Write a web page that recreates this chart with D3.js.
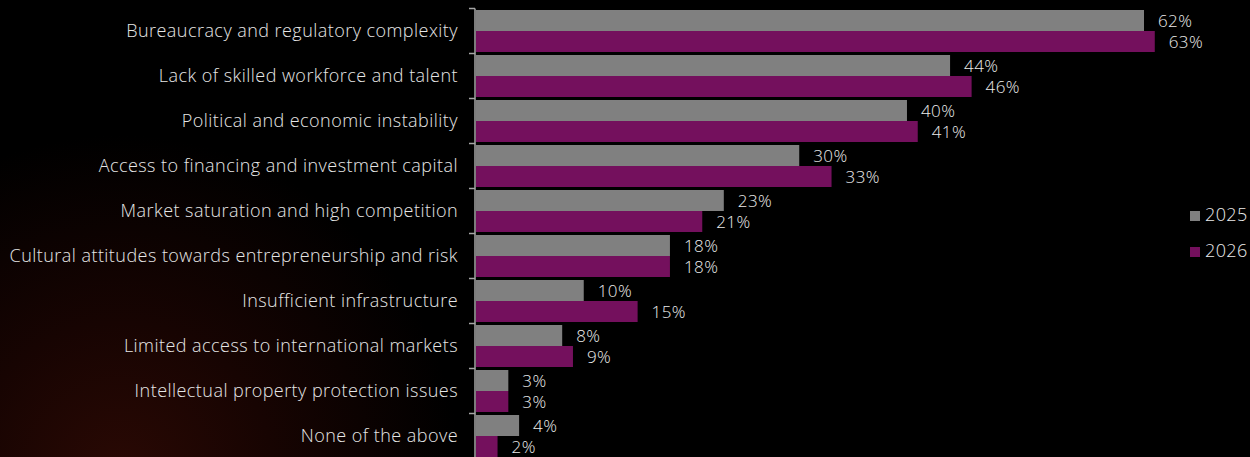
<!DOCTYPE html>
<html>
<head>
<meta charset="utf-8">
<script src="https://cdn.jsdelivr.net/npm/d3@7"></script>
<style>
  html, body { margin: 0; padding: 0; background: #000; }
  svg { display: block; }
</style>
</head>
<body>
<svg id="chart" width="1250" height="457"></svg>
<script>
// Obstacles to entrepreneurship, share of respondents (%)
const categories = [
  "Bureaucracy and regulatory complexity",
  "Lack of skilled workforce and talent",
  "Political and economic instability",
  "Access to financing and investment capital",
  "Market saturation and high competition",
  "Cultural attitudes towards entrepreneurship and risk",
  "Insufficient infrastructure",
  "Limited access to international markets",
  "Intellectual property protection issues",
  "None of the above"
];
const seriesNames = ["2025", "2026"];
const values2025 = [62, 44, 40, 30, 23, 18, 10, 8, 3, 4];
const values2026 = [63, 46, 41, 33, 21, 18, 15, 9, 3, 2];
const seriesColors = ["#808080", "#74105d"];

const svg = d3.select("#chart");
const W = 1250, H = 457;
const FONT = "'Open Sans', sans-serif";

// Background with a faint warm glow in the lower-left corner
const defs = svg.append("defs");
const glow = defs.append("radialGradient")
  .attr("id", "glow").attr("gradientUnits", "userSpaceOnUse")
  .attr("cx", 120).attr("cy", 475).attr("r", 340);
glow.append("stop").attr("offset", "0%").attr("stop-color", "#2a0904");
glow.append("stop").attr("offset", "45%").attr("stop-color", "#170402");
glow.append("stop").attr("offset", "100%").attr("stop-color", "#000");
svg.append("rect").attr("width", W).attr("height", H).attr("fill", "#000");
svg.append("rect").attr("width", W).attr("height", H).attr("fill", "url(#glow)");

const data = categories.map((c, i) => ({
  category: c,
  values: [values2025[i], values2026[i]]
}));

const y = d3.scaleBand().domain(categories).range([8.5, 458.5]).padding(0);
const ySub = d3.scaleBand().domain(seriesNames).range([0, y.bandwidth()])
  .paddingInner(0).paddingOuter(0.0714);
const x = d3.scaleLinear().domain([0, 62]).range([476, 1144]);

// Bars
const groups = svg.append("g").selectAll("g")
  .data(data).join("g")
  .attr("transform", d => `translate(0,${y(d.category)})`);

groups.selectAll("rect")
  .data(d => d.values.map((v, j) => ({ v, s: seriesNames[j], j })))
  .join("rect")
  .attr("x", x(0))
  .attr("y", d => ySub(d.s))
  .attr("width", d => x(d.v) - x(0))
  .attr("height", ySub.bandwidth())
  .attr("fill", d => seriesColors[d.j]);

// Value labels
groups.selectAll("text")
  .data(d => d.values.map((v, j) => ({ v, s: seriesNames[j], j })))
  .join("text")
  .attr("x", d => x(d.v) + 14)
  .attr("y", d => ySub(d.s) + ySub.bandwidth() / 2 + 1.5)
  .attr("dominant-baseline", "middle")
  .attr("fill", "#ebebeb")
  .style("font-family", FONT)
  .style("font-weight", 300)
  .style("font-size", "17px")
  .style("letter-spacing", "0.4px")
  .text(d => d.v + "%");

// Category axis
const axis = d3.axisLeft(y).tickSize(0).tickPadding(17);
const axisG = svg.append("g").attr("transform", "translate(475,0)").call(axis);
axisG.select(".domain").attr("stroke", "#a6a6a6").attr("stroke-width", 1.5)
  .attr("d", "M0,8.5V458.5");
axisG.selectAll("text")
  .attr("fill", "#e6e6e6")
  .style("font-family", FONT)
  .style("font-weight", 300)
  .style("font-size", "18px")
  .style("letter-spacing", "0.45px");

// Band separators on the left of the axis
svg.append("g").selectAll("line")
  .data(categories.map(c => y(c)).concat([y.range()[1]]))
  .join("line")
  .attr("x1", 469).attr("x2", 475)
  .attr("y1", d => d).attr("y2", d => d)
  .attr("stroke", "#a6a6a6").attr("stroke-width", 1.5);

// Legend
const legend = svg.append("g").selectAll("g")
  .data(seriesNames).join("g")
  .attr("transform", (d, i) => `translate(1190,${211 + i * 36})`);
legend.append("rect").attr("width", 10).attr("height", 10)
  .attr("fill", (d, i) => seriesColors[i]);
legend.append("text")
  .attr("x", 15).attr("y", 5.5)
  .attr("dominant-baseline", "middle")
  .attr("fill", "#ebebeb")
  .style("font-family", FONT)
  .style("font-weight", 300)
  .style("font-size", "18px")
  .style("letter-spacing", "0.4px")
  .text(d => d);
</script>
</body>
</html>
